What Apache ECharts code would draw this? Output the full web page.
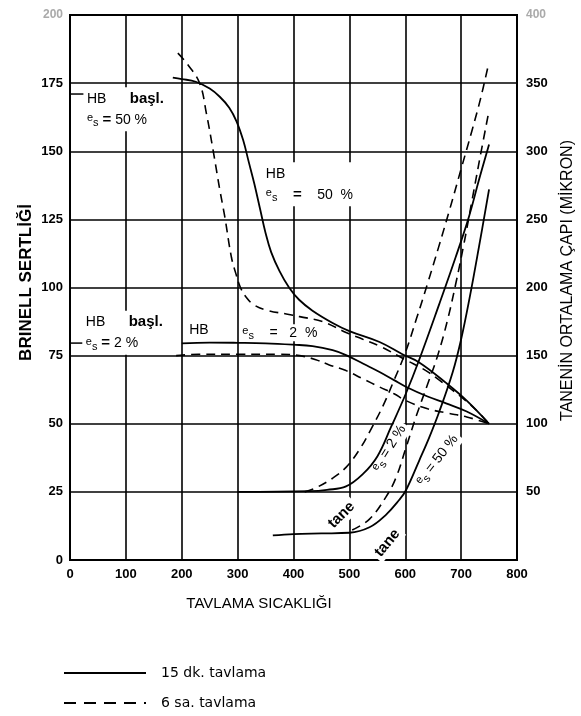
<!DOCTYPE html>
<html>
<head>
<meta charset="utf-8">
<script src="https://cdn.jsdelivr.net/npm/echarts/dist/echarts.min.js"></script>
<style>
html, body { margin: 0; padding: 0; background: #fff; }
#chart { width: 581px; height: 716px; }
</style>
</head>
<body>
<div id="chart"></div>
<script>
// tavlama sicakligi -> sertlik (HB, sol eksen) ve tane capi (mikron, sag eksen)
var hb50Solid = [[184,177],[200,176.5],[225,175.5],[250,173],[268,170],[285,166],[298,161],[310,154],[320,146],[330,138],[340,129],[350,120],[360,113],[375,106],[392,100],[410,95.5],[434,91.5],[470,87],[500,84],[554,80],[595,75.5],[625,72.5],[673,65],[710,58.5],[750,50]];
var hb50Dashed = [[193,186],[210,182],[232,175],[244,164],[256,150.5],[268,136],[277,126],[289,111],[297,105],[305,100],[315,96.5],[330,93.5],[355,91.5],[387,90.3],[411,89.3],[452,87.5],[494,83.5],[524,81],[554,78.5],[601,73.4],[637,69.5],[661,66],[708,58.5],[732,54],[750,50]];
var hb2Solid = [[200,79.5],[250,79.8],[300,79.7],[350,79.5],[400,79],[434,78.5],[470,77],[494,75.2],[525,72],[554,69],[580,66],[601,63.6],[640,60],[673,57.5],[710,54.5],[750,50]];
var hb2Dashed = [[190,75],[230,75.5],[300,75.5],[375,75.5],[411,75],[440,73.5],[464,71.6],[494,69.5],[524,66.5],[554,63.5],[580,61],[601,58.5],[640,55.5],[673,54],[710,52.5],[750,50]];
var tane2Solid = [[300,50],[430,50.5],[460,51.5],[494,54],[524,63],[550,76],[575,98],[601,122],[625,147],[661,188],[690,222],[714,252],[732,279],[750,305]];
var tane2Dashed = [[420,50],[440,53],[470,60],[494,68],[518,81],[540,97],[560,113],[580,132],[600,152],[620,177],[640,203],[660,230],[680,258],[700,287],[720,316],[735,339],[748,362]];
var tane50Solid = [[363,18],[400,19],[450,19.5],[500,20],[536,24],[565,33],[589,44],[601,51],[625,73],[643,90],[661,109],[685,138],[700,162],[715,192],[732,230],[750,272]];
var tane50Dashed = [[505,22],[536,30],[565,46],[583,60],[601,82],[620,106],[640,129],[658,150],[675,175],[690,202],[705,232],[720,265],[735,298],[750,330]];

var legendNames = ['15 dk. tavlama', '6 sa. tavlama'];

function curve(data, yIdx, dashed) {
    return {
        type: 'line', data: data, yAxisIndex: yIdx,
        symbol: 'none', smooth: 0.4, silent: true, z: 3,
        lineStyle: { color: '#000', width: dashed ? 1.6 : 1.8, type: dashed ? [9, 6] : 'solid' }
    };
}

var labelFont = { color: '#000', fontFamily: 'Liberation Sans', fontSize: 13, fontWeight: 'bold' };

var chart = echarts.init(document.getElementById('chart'));
chart.setOption({
    animation: false,
    backgroundColor: '#fff',
    grid: { left: 70, right: 64, top: 15, bottom: 156, show: true, borderColor: '#000', borderWidth: 2, outerBoundsMode: 'none' },
    legend: {
        left: 63, top: 666, orient: 'vertical', padding: 0, itemWidth: 82, itemHeight: 10, itemGap: 16,
        selectedMode: false, data: legendNames,
        itemStyle: { opacity: 0 },
        textStyle: { color: '#000', fontFamily: 'DejaVu Sans', fontSize: 14, padding: [0, 0, 0, 10] }
    },
    xAxis: {
        type: 'value', min: 0, max: 800, interval: 100,
        name: 'TAVLAMA SICAKLIĞI', nameLocation: 'middle', nameGap: 36,
        nameTextStyle: { color: '#000', fontFamily: 'Liberation Sans', fontSize: 15, padding: [0, 69, 0, 0] },
        axisLine: { lineStyle: { color: '#000', width: 2 } },
        axisTick: { show: false },
        axisLabel: Object.assign({ margin: 8 }, labelFont),
        splitLine: { lineStyle: { color: '#000', width: 1.6 } }
    },
    yAxis: [{
        type: 'value', min: 0, max: 200, interval: 25,
        name: 'BRINELL SERTLİĞİ', nameLocation: 'middle', nameGap: 35, nameRotate: 90, nameMoveOverlap: false,
        nameTextStyle: { color: '#000', fontFamily: 'Liberation Sans', fontSize: 17, fontWeight: 'bold', padding: [0, 0, 0, 10] },
        axisLine: { lineStyle: { color: '#000', width: 2 } },
        axisTick: { show: false },
        axisLabel: Object.assign({ margin: 7, formatter: function (v) { return v === 200 ? '{f|200}' : v; }, rich: { f: { color: '#aaa', fontSize: 12 } } }, labelFont),
        splitLine: { lineStyle: { color: '#000', width: 1.6 } }
    }, {
        type: 'value', min: 0, max: 400, interval: 50, position: 'right',
        name: 'TANENİN ORTALAMA ÇAPI (MİKRON)', nameLocation: 'middle', nameGap: 43, nameRotate: 90, nameMoveOverlap: false,
        nameTextStyle: { color: '#000', fontFamily: 'Liberation Sans', fontSize: 16, padding: [0, 0, 0, 14] },
        axisLine: { show: true, lineStyle: { color: '#000', width: 2 } },
        axisTick: { show: false },
        axisLabel: Object.assign({ margin: 9, showMinLabel: false, formatter: function (v) { return v === 400 ? '{f|400}' : v; }, rich: { f: { color: '#aaa', fontSize: 12 } } }, labelFont),
        splitLine: { show: false }
    }],
    series: [
        curve(hb50Solid, 0, false),
        curve(hb50Dashed, 0, true),
        curve(hb2Solid, 0, false),
        curve(hb2Dashed, 0, true),
        curve(tane2Solid, 1, false),
        curve(tane2Dashed, 1, true),
        curve(tane50Solid, 1, false),
        curve(tane50Dashed, 1, true),
        { type: 'line', name: legendNames[0], data: [], symbol: 'none', itemStyle: { color: '#000' }, lineStyle: { color: '#000', width: 1.2 } },
        { type: 'line', name: legendNames[1], data: [], symbol: 'none', itemStyle: { color: '#000' }, lineStyle: { color: '#000', width: 1.2, type: [12, 8] } }
    ]
});

// yazilar (veri koordinatlarinda konumlandirilir)
var rich = {
    b: { fontFamily: 'Liberation Sans', fontSize: 15, fontWeight: 'bold', fill: '#000' },
    s: { fontFamily: 'Liberation Sans', fontSize: 11, fill: '#000', padding: [7, 0, 0, 0] },
    e: { fontFamily: 'Liberation Sans', fontSize: 11, fill: '#000', padding: [0, 0, 3, 0] }
};
var notes = [
    { at: [25, 173.5], text: 'HB      {b|başl.}\n{e|e}{s|s} {b|=} 50 %', rot: 0, align: 'left', lh: 21 },
    { at: [345, 146], text: 'HB\n{e|e}{s|s}    {b|=}    50  %', rot: 0, align: 'left', lh: 21 },
    { at: [23, 91.5], text: 'HB      {b|başl.}\n{e|e}{s|s} {b|=} 2 %', rot: 0, align: 'left', lh: 21 },
    { at: [208, 87.5], text: 'HB', rot: 0, align: 'left', lh: 15 },
    { at: [303, 86.5], text: '{e|e}{s|s}    =   2  %', rot: 0, align: 'left', lh: 15 },
    { at: [486, 16.5], text: '{b|tane}', rot: 45, align: 'center', lh: 16 },
    { at: [568, 6.2], text: '{b|tane}', rot: 50, align: 'center', lh: 16 },
    { at: [571, 41], text: '{e|e}{s|s} = 2 %', rot: 58, align: 'center', lh: 16 },
    { at: [657, 36.7], text: '{e|e}{s|s} = 50 %', rot: 52, align: 'center', lh: 16 }
];
var leaders = [[[0, 171], [24, 171]], [[0, 79.6], [22, 79.6]]];

var graphics = [];
notes.forEach(function (n) {
    var p = chart.convertToPixel({ xAxisIndex: 0, yAxisIndex: 0 }, n.at);
    graphics.push({
        type: 'text', x: p[0], y: p[1], rotation: n.rot * Math.PI / 180, z: 1,
        style: {
            text: n.text, rich: rich, fill: '#000', font: '14px "Liberation Sans"', lineHeight: n.lh,
            align: n.align, verticalAlign: n.align === 'left' ? 'top' : 'middle',
            backgroundColor: '#fff', padding: [1, 3]
        }
    });
});
leaders.forEach(function (l) {
    var a = chart.convertToPixel({ xAxisIndex: 0, yAxisIndex: 0 }, l[0]);
    var b = chart.convertToPixel({ xAxisIndex: 0, yAxisIndex: 0 }, l[1]);
    graphics.push({ type: 'line', z: 11, shape: { x1: a[0], y1: a[1], x2: b[0], y2: b[1] }, style: { stroke: '#000', lineWidth: 1.5 } });
});
chart.setOption({ graphic: graphics });
</script>
</body>
</html>
